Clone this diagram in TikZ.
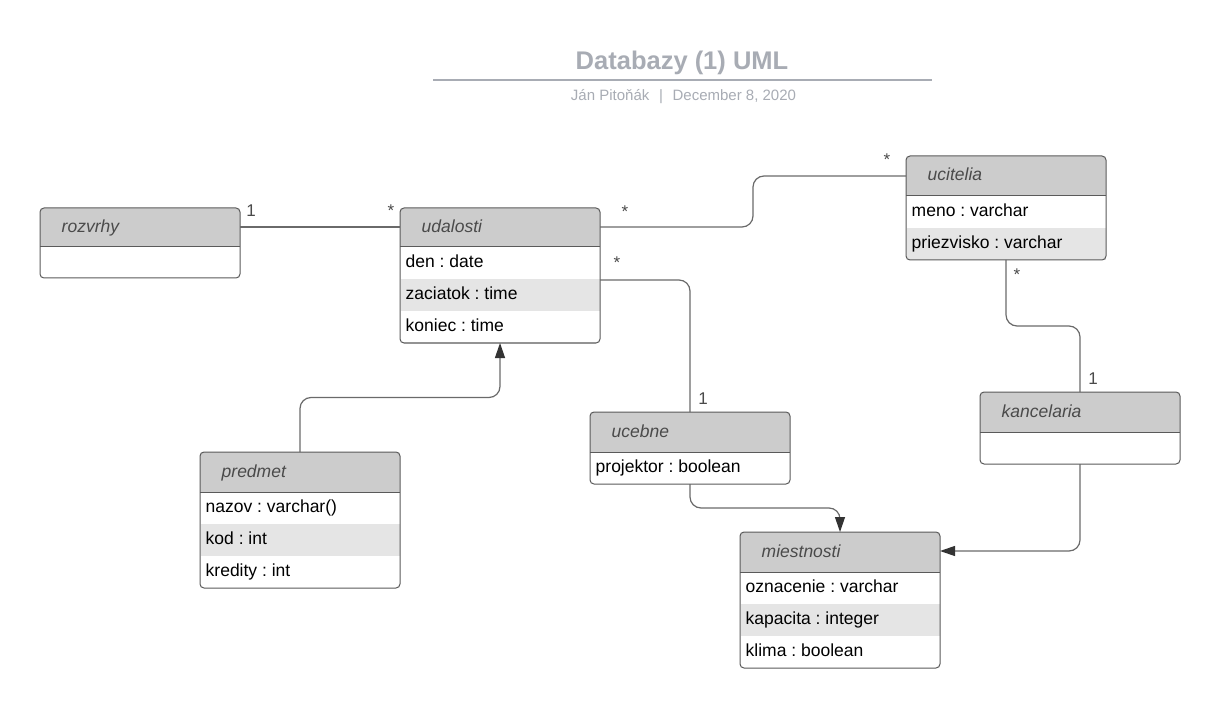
\documentclass[tikz,border=0pt]{standalone}
\usepackage{fontspec}
\setmainfont{Liberation Sans}
\usetikzlibrary{arrows.meta,calc}
\frenchspacing
\definecolor{hdrc}{HTML}{CCCCCC}
\definecolor{shadec}{HTML}{E5E5E5}
\definecolor{bordc}{HTML}{5A5A5A}
\definecolor{connc}{HTML}{6A6A6A}
\definecolor{arrc}{HTML}{333333}
\definecolor{ttlc}{HTML}{A8ACB4}
\definecolor{lblc}{HTML}{4A4A4A}
\tikzset{
  hdrtext/.style={anchor=base west, inner sep=0pt, font=\fontsize{17.5}{20}\selectfont\itshape, text=lblc},
  rowtext/.style={anchor=base west, inner sep=0pt, font=\fontsize{17.5}{20}\selectfont, text=black},
  multlbl/.style={anchor=base, inner sep=0pt, font=\fontsize{17}{20}\selectfont, text=lblc},
  connline/.style={draw=connc, line width=1.2pt, rounded corners=11pt},
  arrowend/.style={-{Triangle[length=15pt,width=10pt,color=arrc]}},
}
% background of a class box: white body + grey header
\newcommand\umlbg[4]{% x y h hh
  \begin{scope}
    \clip[rounded corners=4pt] (#1,#2) rectangle ++(200,#3);
    \fill[white] (#1,#2) rectangle ++(200,#3);
    \fill[hdrc] (#1,#2) rectangle ++(200,#4);
  \end{scope}}
% frame of a class box
\newcommand\umlframe[6]{% name x y h hh title
  \draw[bordc, line width=1pt] (#2,#3) ++(0,#5) -- ++(200,0);
  \node[hdrtext] (#1-t) at (#2+21.5,#3+25) {#6};
  \node[draw=bordc, line width=1pt, rounded corners=4pt, minimum width=200pt,
        minimum height=#4pt, inner sep=0pt, outer sep=0pt, anchor=north west] (#1) at (#2,#3) {};}
\newcommand\umlrow[4]{% name x rowtop text
  \node[rowtext] (#1) at (#2+5.5,#3+20.5) {#4};}
\begin{document}
\begin{tikzpicture}[x=1pt,y=-1pt]
\useasboundingbox (0,0) rectangle (1220,708);
\fill[white] (0,0) rectangle (1220,708);

% title block
\node[anchor=base, inner sep=0pt, font=\fontsize{25.5}{30}\selectfont\bfseries, text=ttlc] (title) at (682,69.5) {Databazy (1) UML};
\draw[ttlc, line width=2pt] (433,80) -- (932,80);
\node[anchor=base, inner sep=0pt, font=\fontsize{15}{18}\selectfont, text=ttlc] (subtitle) at (683.5,101) {Ján Pitoňák\hspace{5.5pt} | \hspace{5.5pt}December 8, 2020};

% rozvrhy
\umlbg{40}{208}{70}{39}
\umlframe{rozvrhy}{40}{208}{70}{39}{rozvrhy}

% udalosti
\umlbg{400}{208}{135}{39}
\fill[shadec] (400.5,279) rectangle (599.5,311);
\umlframe{udalosti}{400}{208}{135}{39}{udalosti}
\umlrow{ud1}{400}{247}{den : date}
\umlrow{ud2}{400}{279}{zaciatok : time}
\umlrow{ud3}{400}{311}{koniec : time}

% ucitelia
\umlbg{906}{156}{104}{40}
\fill[shadec] (906.5,228) rectangle (1105.5,260);
\umlframe{ucitelia}{906}{156}{104}{40}{ucitelia}
\umlrow{uc1}{906}{196}{meno : varchar}
\umlrow{uc2}{906}{228}{priezvisko : varchar}

% kancelaria
\umlbg{980}{392}{72}{40}
\umlframe{kancelaria}{980}{392}{72}{40}{kancelaria}

% ucebne
\umlbg{590}{412}{72}{40}
\umlframe{ucebne}{590}{412}{72}{40}{ucebne}
\umlrow{ub1}{590}{452}{projektor : boolean}

% predmet
\umlbg{200}{452}{136}{40}
\fill[shadec] (200.5,524) rectangle (399.5,556);
\umlframe{predmet}{200}{452}{136}{40}{predmet}
\umlrow{pr1}{200}{492}{nazov : varchar()}
\umlrow{pr2}{200}{524}{kod : int}
\umlrow{pr3}{200}{556}{kredity : int}

% miestnosti
\umlbg{740}{532}{136}{40}
\fill[shadec] (740.5,604) rectangle (939.5,636);
\umlframe{miestnosti}{740}{532}{136}{40}{miestnosti}
\umlrow{mi1}{740}{572}{oznacenie : varchar}
\umlrow{mi2}{740}{604}{kapacita : integer}
\umlrow{mi3}{740}{636}{klima : boolean}

% connectors
\draw[connline] ([yshift=-19pt]rozvrhy.north east) -- ([yshift=-19pt]udalosti.north west);
\draw[connline] ([yshift=-19pt]udalosti.north east) -| ($([yshift=-19pt]udalosti.north east)!0.5!([yshift=-20pt]ucitelia.north west)$) |- ([yshift=-20pt]ucitelia.north west);
\draw[connline] ([yshift=-72pt]udalosti.north east) -| (ucebne.north);
\draw[connline] (ucitelia.south) |- ($(ucitelia.south)!0.5!(kancelaria.north)$) -| (kancelaria.north);
\draw[connline, arrowend] (predmet.north) |- ($(predmet.north)!0.5!(udalosti.south)$) -| (udalosti.south);
\draw[connline, arrowend] (ucebne.south) |- ($(ucebne.south)!0.5!(miestnosti.north)$) -| (miestnosti.north);
\draw[connline, arrowend] (kancelaria.south) |- ([yshift=-19pt]miestnosti.north east);

% multiplicities
\node[multlbl] (m1) at (251,217) {1};
\node[multlbl] (m2) at (391,217) {*};
\node[multlbl] (m3) at (625,218) {*};
\node[multlbl] (m4) at (887,166) {*};
\node[multlbl] (m5) at (617,269) {*};
\node[multlbl] (m6) at (703,404) {1};
\node[multlbl] (m7) at (1017,281) {*};
\node[multlbl] (m8) at (1093,384) {1};
\end{tikzpicture}
\end{document}
